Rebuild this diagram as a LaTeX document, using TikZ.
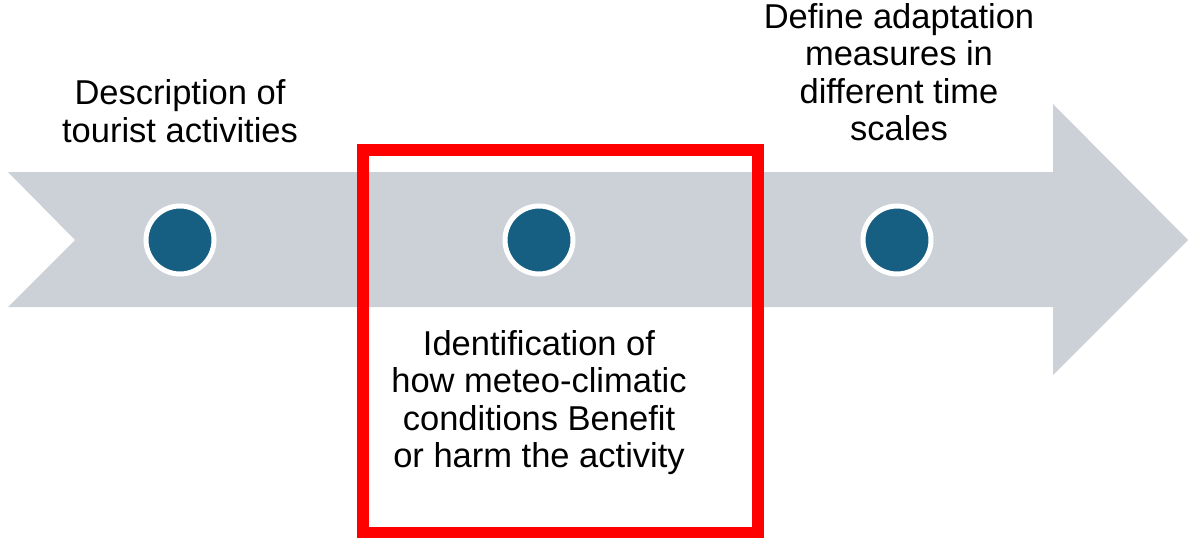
\documentclass[tikz,border=0pt]{standalone}
\usepackage{fontspec}
\setmainfont{Liberation Sans}
\usetikzlibrary{positioning}

\definecolor{bandgray}{HTML}{CCD1D8}
\definecolor{dotblue}{HTML}{175F82}
\definecolor{boxred}{HTML}{FF0000}

\begin{document}
\begin{tikzpicture}[x=1pt,y=-1pt,
    dot/.style={circle,fill=dotblue,draw=white,line width=5pt,minimum size=68pt,inner sep=0pt},
    steptext/.style={align=center,font=\fontsize{34.5}{37.5}\selectfont,inner sep=0pt}]
  \useasboundingbox (0,0) rectangle (1189,538);
  % timeline arrow
  \fill[bandgray] (8,172) -- (1053,172) -- (1053,104) -- (1188,240)
    -- (1053,375) -- (1053,307) -- (8,307) -- (75,240) -- cycle;
  % steps
  \node[dot] (dot1) at (180,240) {};
  \node[dot] (dot2) at (539,240) {};
  \node[dot] (dot3) at (897,240) {};
  % highlighted step
  \node[draw=boxred,line width=12pt,minimum width=394.5pt,minimum height=382.5pt,inner sep=0pt]
    (focus) at (560.25,341.25) {};
  % step texts (base = last line)
  \node[steptext,anchor=base] (describe) at (180,142) {Description of\\tourist activities};
  \node[steptext,anchor=base] (identify) at (539,467.5) {Identification of\\how meteo-climatic\\conditions Benefit\\or harm the activity};
  \node[steptext,anchor=base] (adapt) at (899,140.5) {Define adaptation\\measures in\\different time\\scales};
\end{tikzpicture}
\end{document}
